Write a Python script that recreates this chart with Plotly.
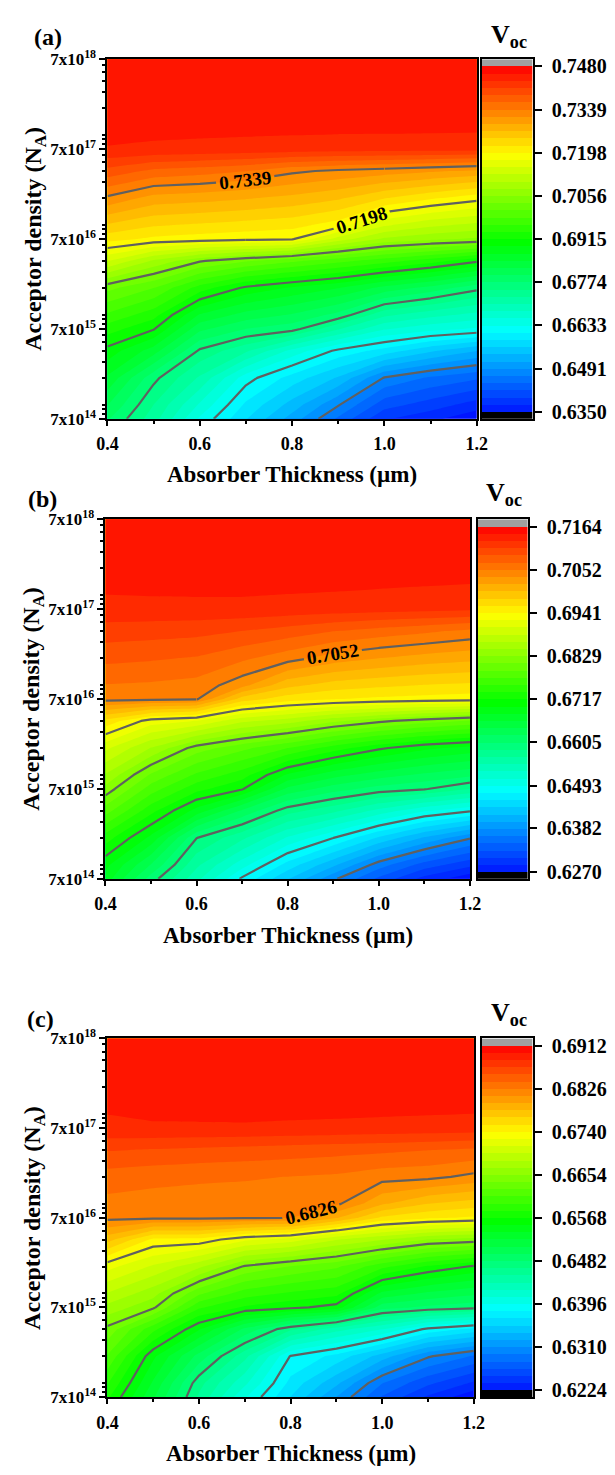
import math
import plotly.graph_objects as go
from plotly.colors import sample_colorscale

# ---------------- data ----------------
thickness_um = [0.4, 0.5, 0.6, 0.7, 0.8, 0.9, 1.0, 1.1, 1.2]
acceptor_density = [7e14, 1e15, 2e15, 4e15, 7e15, 1e16, 2e16, 4e16, 7e16,
                    1e17, 2e17, 4e17, 7e17, 2e18, 7e18]

# rows follow acceptor_density, columns follow thickness_um
voc_a = [
    [0.6800, 0.6737, 0.6652, 0.6587, 0.6528, 0.6463, 0.6400, 0.6380, 0.6355],
    [0.6822, 0.6750, 0.6676, 0.6604, 0.6552, 0.6493, 0.6430, 0.6409, 0.6386],
    [0.6864, 0.6781, 0.6723, 0.6643, 0.6599, 0.6559, 0.6489, 0.6464, 0.6448],
    [0.6906, 0.6856, 0.6769, 0.6731, 0.6672, 0.6626, 0.6599, 0.6566, 0.6539],
    [0.6950, 0.6917, 0.6827, 0.6797, 0.6783, 0.6729, 0.6682, 0.6664, 0.6652],
    [0.6981, 0.6948, 0.6865, 0.6835, 0.6818, 0.6789, 0.6732, 0.6711, 0.6695],
    [0.7040, 0.7009, 0.6951, 0.6909, 0.6888, 0.6869, 0.6836, 0.6812, 0.6781],
    [0.7152, 0.7099, 0.7059, 0.7035, 0.7014, 0.6993, 0.6972, 0.6949, 0.6920],
    [0.7230, 0.7216, 0.7210, 0.7205, 0.7200, 0.7140, 0.7098, 0.7085, 0.7076],
    [0.7265, 0.7247, 0.7241, 0.7235, 0.7229, 0.7210, 0.7154, 0.7132, 0.7120],
    [0.7334, 0.7306, 0.7301, 0.7294, 0.7285, 0.7272, 0.7246, 0.7225, 0.7207],
    [0.7401, 0.7380, 0.7373, 0.7363, 0.7344, 0.7334, 0.7327, 0.7319, 0.7310],
    [0.7455, 0.7452, 0.7450, 0.7448, 0.7446, 0.7444, 0.7443, 0.7442, 0.7441],
    [0.7472, 0.7474, 0.7475, 0.7476, 0.7477, 0.7478, 0.7479, 0.7479, 0.7479],
    [0.7466, 0.7468, 0.7472, 0.7474, 0.7476, 0.7478, 0.7480, 0.7480, 0.7480],
]

voc_b = [
    [0.6690, 0.6615, 0.6555, 0.6490, 0.6439, 0.6386, 0.6340, 0.6300, 0.6275],
    [0.6704, 0.6641, 0.6572, 0.6520, 0.6467, 0.6423, 0.6372, 0.6336, 0.6312],
    [0.6745, 0.6693, 0.6606, 0.6572, 0.6528, 0.6494, 0.6453, 0.6416, 0.6384],
    [0.6800, 0.6742, 0.6691, 0.6639, 0.6595, 0.6573, 0.6543, 0.6514, 0.6496],
    [0.6841, 0.6782, 0.6742, 0.6719, 0.6656, 0.6632, 0.6616, 0.6607, 0.6586],
    [0.6864, 0.6807, 0.6769, 0.6744, 0.6695, 0.6668, 0.6651, 0.6638, 0.6628],
    [0.6908, 0.6865, 0.6820, 0.6797, 0.6773, 0.6745, 0.6721, 0.6703, 0.6692],
    [0.6972, 0.6932, 0.6921, 0.6889, 0.6875, 0.6852, 0.6834, 0.6819, 0.6808],
    [0.7058, 0.7056, 0.7054, 0.6988, 0.6968, 0.6960, 0.6955, 0.6952, 0.6949],
    [0.7070, 0.7068, 0.7064, 0.7040, 0.7002, 0.6988, 0.6982, 0.6977, 0.6974],
    [0.7095, 0.7092, 0.7088, 0.7075, 0.7060, 0.7044, 0.7034, 0.7026, 0.7021],
    [0.7118, 0.7116, 0.7114, 0.7108, 0.7100, 0.7090, 0.7082, 0.7075, 0.7066],
    [0.7140, 0.7140, 0.7140, 0.7140, 0.7138, 0.7136, 0.7134, 0.7132, 0.7130],
    [0.7155, 0.7157, 0.7158, 0.7158, 0.7158, 0.7158, 0.7157, 0.7156, 0.7155],
    [0.7148, 0.7152, 0.7156, 0.7158, 0.7159, 0.7160, 0.7160, 0.7160, 0.7160],
]

voc_c = [
    [0.6585, 0.6527, 0.6465, 0.6412, 0.6367, 0.6324, 0.6280, 0.6250, 0.6228],
    [0.6598, 0.6537, 0.6473, 0.6428, 0.6377, 0.6342, 0.6296, 0.6270, 0.6250],
    [0.6624, 0.6557, 0.6505, 0.6458, 0.6395, 0.6377, 0.6346, 0.6312, 0.6294],
    [0.6650, 0.6601, 0.6555, 0.6507, 0.6471, 0.6445, 0.6425, 0.6392, 0.6377],
    [0.6678, 0.6657, 0.6599, 0.6580, 0.6572, 0.6562, 0.6502, 0.6493, 0.6487],
    [0.6696, 0.6674, 0.6628, 0.6604, 0.6594, 0.6587, 0.6535, 0.6522, 0.6514],
    [0.6731, 0.6709, 0.6686, 0.6652, 0.6639, 0.6628, 0.6601, 0.6580, 0.6566],
    [0.6789, 0.6751, 0.6750, 0.6729, 0.6719, 0.6698, 0.6684, 0.6668, 0.6662],
    [0.6830, 0.6829, 0.6829, 0.6828, 0.6827, 0.6799, 0.6766, 0.6757, 0.6752],
    [0.6836, 0.6834, 0.6833, 0.6832, 0.6831, 0.6829, 0.6799, 0.6783, 0.6776],
    [0.6848, 0.6845, 0.6843, 0.6842, 0.6840, 0.6838, 0.6832, 0.6830, 0.6822],
    [0.6870, 0.6868, 0.6866, 0.6864, 0.6862, 0.6860, 0.6858, 0.6855, 0.6852],
    [0.6895, 0.6896, 0.6896, 0.6896, 0.6895, 0.6894, 0.6893, 0.6892, 0.6891],
    [0.6903, 0.6906, 0.6907, 0.6908, 0.6909, 0.6910, 0.6910, 0.6910, 0.6910],
    [0.6898, 0.6906, 0.6908, 0.6909, 0.6910, 0.6911, 0.6912, 0.6912, 0.6912],
]

cbar_ticks_a = ["0.6350", "0.6491", "0.6633", "0.6774", "0.6915", "0.7056", "0.7198", "0.7339", "0.7480"]
cbar_ticks_b = ["0.6270", "0.6382", "0.6493", "0.6605", "0.6717", "0.6829", "0.6941", "0.7052", "0.7164"]
cbar_ticks_c = ["0.6224", "0.6310", "0.6396", "0.6482", "0.6568", "0.6654", "0.6740", "0.6826", "0.6912"]

# labelled contour levels, with the thickness span whose line carries the label
labelled_a = [(0.7339, 0.4, 1.0), (0.7198, 0.7, 1.2)]
labelled_b = [(0.7052, 0.6, 1.2)]
labelled_c = [(0.6826, 0.6, 1.2)]

x_tick_vals = [0.4, 0.6, 0.8, 1.0, 1.2]
x_tick_text = ["0.4", "0.6", "0.8", "1.0", "1.2"]
x_minor_vals = [0.5, 0.7, 0.9, 1.1]
y_tick_vals = [7e14, 7e15, 7e16, 7e17, 7e18]
y_tick_text = ["7x10<sup>14</sup>", "7x10<sup>15</sup>", "7x10<sup>16</sup>",
               "7x10<sup>17</sup>", "7x10<sup>18</sup>"]

x_title = "Absorber Thickness (µm)"
y_title = "Acceptor density (N<sub>A</sub>)"
cbar_title = "V<sub>oc</sub>"

# ---------------- style ----------------
W, H = 615, 1475
FONT = "Liberation Serif"
LINE = "rgb(96,96,96)"
rainbow = [[0.0, "rgb(0,0,255)"], [0.25, "rgb(0,255,255)"], [0.5, "rgb(0,255,0)"],
           [0.75, "rgb(255,255,0)"], [1.0, "rgb(255,0,0)"]]
N_SUB = 6  # colour bands per labelled colour-bar step

panels = [
    dict(tag="(a)", z=voc_a, ticks=cbar_ticks_a, lab=labelled_a,
         plot=(100, 483, 48, 413), cbar=(488, 541),
         tag_xy=(22, 25), voc_xy=(516, 24), yt_xy=(24, 230), xt_xy=(291, 470)),
    dict(tag="(b)", z=voc_b, ticks=cbar_ticks_b, lab=labelled_b,
         plot=(98, 476, 515, 880), cbar=(484, 536),
         tag_xy=(16, 494), voc_xy=(511, 489), yt_xy=(22, 697), xt_xy=(287, 937)),
    dict(tag="(c)", z=voc_c, ticks=cbar_ticks_c, lab=labelled_c,
         plot=(100, 480, 1042, 1406), cbar=(488, 541),
         tag_xy=(15, 1022), voc_xy=(516, 1017), yt_xy=(24, 1224), xt_xy=(290, 1463)),
]


def fx(p):
    return p / W


def fy(p):
    return 1 - p / H


def fnt(size):
    return dict(family=FONT, size=size, color="black", weight="bold")


log_na = [math.log10(v) for v in acceptor_density]
minor_y = [math.log10(m * 10.0 ** d) for d in range(14, 19) for m in range(1, 10)
           if 7e14 < m * 10.0 ** d < 7e18 and m != 7]

fig = go.Figure()
annotations = []
layout = {}


def col_slice(lo, hi):
    idx = [k for k, t in enumerate(thickness_um) if lo - 1e-9 <= t <= hi + 1e-9]
    return idx[0], idx[-1] + 1


def line_trace(z, xm, ym, lo, hi, start, end, size, labels):
    i0, i1 = col_slice(lo, hi)
    c = dict(start=start, end=end, size=size, coloring="none")
    if labels:
        c.update(showlabels=True, labelfont=fnt(19), labelformat=".4f")
    return go.Contour(
        x=thickness_um[i0:i1], y=log_na, z=[r[i0:i1] for r in z], xaxis=xm, yaxis=ym,
        autocontour=False, contours=c,
        line=dict(color=LINE, width=2.2, smoothing=0), showscale=False,
        hoverinfo="skip")


for i, p in enumerate(panels):
    im = 2 * i + 1
    ic = 2 * i + 2
    xm = "x" if im == 1 else f"x{im}"
    ym = "y" if im == 1 else f"y{im}"
    xc, yc = f"x{ic}", f"y{ic}"
    xm_key = "xaxis" if im == 1 else f"xaxis{im}"
    ym_key = "yaxis" if im == 1 else f"yaxis{im}"

    tick_vals = [float(t) for t in p["ticks"]]
    vmin, vmax = tick_vals[0], tick_vals[-1]
    nb = 8 * N_SUB
    cs = (vmax - vmin) / nb
    major = (vmax - vmin) / 8
    z = p["z"]

    # filled contour bands
    fig.add_trace(go.Contour(
        x=thickness_um, y=log_na, z=z, xaxis=xm, yaxis=ym,
        autocontour=False,
        contours=dict(start=vmin, end=vmax, size=cs, coloring="fill", showlines=False),
        colorscale=rainbow, showscale=False, line=dict(width=0, smoothing=0),
        hoverinfo="skip"))

    # unlabelled contour lines
    lab_levels = [l for l, _, _ in p["lab"]]
    fig.add_trace(line_trace(z, xm, ym, 0.4, 1.2, tick_vals[1],
                             min(lab_levels) - major * 0.5, major, False))
    # labelled contour lines (label carried by the chosen span)
    for lev, lo, hi in p["lab"]:
        fig.add_trace(line_trace(z, xm, ym, lo, hi, lev, lev, major, True))
        if lo > 0.4:
            fig.add_trace(line_trace(z, xm, ym, 0.4, lo, lev, lev, major, False))
        if hi < 1.2:
            fig.add_trace(line_trace(z, xm, ym, hi, 1.2, lev, lev, major, False))

    # colour bar drawn as a heat map of the band colours
    band_cols = sample_colorscale(rainbow, [(j + 1.5) / (nb + 1) for j in range(nb)])
    cols = ["rgb(0,0,0)"] + band_cols + ["rgb(160,160,160)"]
    m = len(cols)
    cscale = []
    for k, c in enumerate(cols):
        cscale += [[k / m, c], [(k + 1) / m, c]]
    edges = [vmin - cs + k * cs for k in range(m + 1)]
    fig.add_trace(go.Heatmap(
        x=[0, 1], y=edges, z=[[k] for k in range(m)], xaxis=xc, yaxis=yc,
        colorscale=cscale, zmin=-0.5, zmax=m - 0.5, showscale=False,
        hoverinfo="skip"))

    x0, x1, y0, y1 = p["plot"]
    c0, c1 = p["cbar"]
    layout[xm_key] = dict(
        domain=[fx(x0), fx(x1)], anchor=ym, range=[0.4, 1.2],
        tickmode="array", tickvals=x_tick_vals, ticktext=x_tick_text,
        ticks="outside", ticklen=5, tickwidth=2, tickcolor="black",
        ticklabelstandoff=3,
        minor=dict(tickmode="array", tickvals=x_minor_vals, ticks="outside",
                   ticklen=3, tickwidth=2, tickcolor="black"),
        showline=True, mirror=True, linewidth=2, linecolor="black",
        showgrid=False, zeroline=False, tickfont=fnt(18))
    layout[ym_key] = dict(
        domain=[fy(y1), fy(y0)], anchor=xm,
        range=[math.log10(7e14), math.log10(7e18)],
        tickmode="array", tickvals=[math.log10(v) for v in y_tick_vals],
        ticktext=y_tick_text,
        ticks="outside", ticklen=6, tickwidth=2, tickcolor="black",
        minor=dict(tickmode="array", tickvals=minor_y, ticks="outside",
                   ticklen=3, tickwidth=1.5, tickcolor="black"),
        showline=True, mirror=True, linewidth=2, linecolor="black",
        showgrid=False, zeroline=False, tickfont=fnt(17))
    layout[f"xaxis{ic}"] = dict(
        domain=[fx(c0), fx(c1)], anchor=yc, range=[0, 1], showticklabels=False,
        ticks="", showline=True, mirror=True, linewidth=2, linecolor="black",
        showgrid=False, zeroline=False)
    layout[f"yaxis{ic}"] = dict(
        domain=[fy(y1), fy(y0)], anchor=xc, side="right",
        range=[vmin - cs, vmax + cs],
        tickmode="array", tickvals=tick_vals, ticktext=p["ticks"],
        ticks="outside", ticklen=7, tickwidth=2, tickcolor="black",
        ticklabelstandoff=6,
        showline=True, mirror=True, linewidth=2, linecolor="black",
        showgrid=False, zeroline=False, tickfont=fnt(20))

    annotations += [
        dict(text=p["tag"], x=fx(p["tag_xy"][0]), y=fy(p["tag_xy"][1]),
             xanchor="left", yanchor="middle", font=fnt(24)),
        dict(text=cbar_title, x=fx(p["voc_xy"][0]), y=fy(p["voc_xy"][1]),
             xanchor="center", yanchor="middle", font=fnt(26)),
        dict(text=y_title, x=fx(p["yt_xy"][0]), y=fy(p["yt_xy"][1]), textangle=-90,
             xanchor="center", yanchor="middle", font=fnt(24)),
        dict(text=x_title, x=fx(p["xt_xy"][0]), y=fy(p["xt_xy"][1]),
             xanchor="center", yanchor="middle", font=fnt(23)),
    ]

for a in annotations:
    a.update(xref="paper", yref="paper", showarrow=False)

fig.update_layout(
    width=W, height=H, margin=dict(l=0, r=0, t=0, b=0),
    paper_bgcolor="white", plot_bgcolor="white", showlegend=False,
    font=fnt(18), annotations=annotations, **layout)

fig.write_html("out.html")
